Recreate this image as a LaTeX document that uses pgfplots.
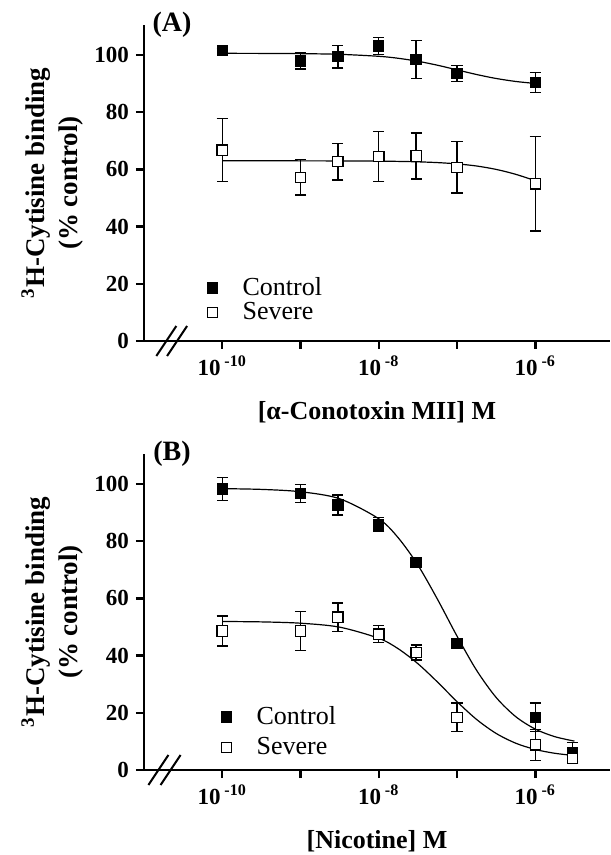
\documentclass[border=0pt]{standalone}
\usepackage{fontspec}
\setmainfont{Liberation Serif}
\usepackage{pgfplots}
\usepackage{pgfplotstable}
\pgfplotsset{compat=1.18}

% measured points: x, mean, SEM
\pgfplotstableread{
x      y      e
1e-10  101.5  0.6
1e-9   97.9   2.8
3e-9   99.4   4.0
1e-8   103.2  3.0
3e-8   98.4   6.6
1e-7   93.6   2.8
1e-6   90.3   3.5
}\ctrlA
\pgfplotstableread{
x      y      e
1e-10  66.7   11.0
1e-9   57.2   6.2
3e-9   62.7   6.4
1e-8   64.5   8.7
3e-8   64.7   8.0
1e-7   60.7   9.0
1e-6   55.0   16.5
}\sevA
\pgfplotstableread{
x      y      e
1e-10  98.2   4.0
1e-9   96.7   3.2
3e-9   92.7   3.5
1e-8   85.9   2.3
3e-8   72.5   0.8
1e-7   44.2   1.2
1e-6   18.4   5.0
3e-6   6.0    3.6
}\ctrlB
\pgfplotstableread{
x      y      e
1e-10  48.6   5.2
1e-9   48.6   6.8
3e-9   53.4   5.0
1e-8   47.5   3.0
3e-8   41.1   2.6
1e-7   18.4   5.0
1e-6   8.8    5.4
3e-6   4.1    1.0
}\sevB

% fitted curves
\pgfplotstableread{
x         y
1e-10     100.59
3.162e-10 100.56
1e-9      100.48
3.162e-9  100.24
1e-8      99.55
1.778e-8  98.85
3.162e-8  97.81
5.623e-8  96.43
1e-7      94.80
1.778e-7  93.18
3.162e-7  91.79
5.623e-7  90.75
1e-6      90.05
}\fitctrlA
\pgfplotstableread{
x         y
1e-10     63.00
3.162e-10 63.00
1e-9      62.99
3.162e-9  62.96
1e-8      62.89
1.778e-8  62.80
3.162e-8  62.65
5.623e-8  62.38
1e-7      61.93
1.778e-7  61.19
3.162e-7  60.00
5.623e-7  58.28
1e-6      56.04
}\fitsevA
\pgfplotstableread{
x         y
1e-10     98.38
3.162e-10 98.12
1e-9      97.30
3.162e-9  94.85
1e-8      87.85
1.778e-8  81.15
3.162e-8  71.65
5.623e-8  59.70
1e-7      46.80
1.778e-7  34.85
3.162e-7  25.35
5.623e-7  18.65
1e-6      14.30
1.778e-6  11.65
3.162e-6  10.10
}\fitctrlB
\pgfplotstableread{
x         y
1e-10     51.93
3.162e-10 51.79
1e-9      51.33
3.162e-9  49.95
1e-8      46.06
1.778e-8  42.37
3.162e-8  37.17
5.623e-8  30.76
1e-7      23.89
1.778e-7  17.67
3.162e-7  12.78
5.623e-7  9.37
1e-6      7.18
1.778e-6  5.84
3.162e-6  5.05
}\fitsevB

\pgfplotsset{
  every axis/.append style={
    scale only axis, width=233pt, height=158pt,
    xmin=1e-11, xmax=9e-6, ymin=0, ymax=110.5,
    axis x line=bottom, axis y line=left,
    axis line style={-, line width=1.2pt},
    tick align=outside, major tick length=4pt,
    tick style={line width=1.2pt, black},
    xtick={1e-10,1e-9,1e-8,1e-7,1e-6},
    xticklabels={10\,\textsuperscript{-10},,10\,\textsuperscript{-8},,10\,\textsuperscript{-6}},
    ytick={0,20,40,60,80,100},
    yticklabel style={/pgf/number format/assume math mode=true},
    ticklabel style={font=\bfseries\fontsize{11.5}{12}\selectfont},
    clip=false,
    xlabel style={at={(axis description cs:0.5,-0.225)}, anchor=center,
      font=\bfseries\fontsize{13}{15}\selectfont},
    ylabel style={at={(axis description cs:-0.197,0.5)}, anchor=center,
      align=center, font=\bfseries\fontsize{13.5}{16.5}\selectfont},
    legend cell align=left,
    legend style={draw=none, fill=none, font=\fontsize{13}{13}\selectfont,
      column sep=6.5pt, nodes={inner ysep=1pt, inner xsep=6pt}},
  },
}

\begin{document}
\begin{tikzpicture}
\useasboundingbox (0,0) rectangle (305pt,427.5pt);

% (A) alpha-conotoxin MII
\begin{semilogxaxis}[at={(72pt,257pt)}, anchor=south west,
  xminorticks=false,
  xlabel={[α-Conotoxin MII] M},
  ylabel={\textsuperscript{3}H-Cytisine binding\\(\% control)},
  legend style={at={(axis description cs:0.122,0.13)}, anchor=west}]
\addplot[black, line width=0.6pt, smooth, forget plot] table[x=x,y=y] {\fitctrlA};
\addplot[only marks, mark=square*, mark size=2.6pt,
  mark options={fill=black, draw=black, line width=0.5pt},
  error bars/.cd, y dir=both, y explicit,
  error bar style={line width=0.7pt, black},
  error mark options={rotate=90, mark size=2.8pt, line width=0.7pt, black}]
  table[x=x,y=y,y error=e] {\ctrlA};
\addlegendentry{Control}
\addplot[black, line width=0.6pt, smooth, forget plot] table[x=x,y=y] {\fitsevA};
\addplot[only marks, mark=square*, mark size=2.6pt,
  mark options={fill=white, draw=black, line width=0.6pt},
  error bars/.cd, y dir=both, y explicit,
  error bar style={line width=0.7pt, black},
  error mark options={rotate=90, mark size=2.8pt, line width=0.7pt, black}]
  table[x=x,y=y,y error=e] {\sevA};
\addlegendentry{Severe}
\node[font=\bfseries\fontsize{14}{14}\selectfont] at (rel axis cs:0.06,1.0) {(A)};
\draw[line width=1pt] ([xshift=-5pt,yshift=-7.5pt]rel axis cs:0.048,0) -- ([xshift=5pt,yshift=7.5pt]rel axis cs:0.048,0);
\draw[line width=1pt] ([xshift=-5pt,yshift=-7.5pt]rel axis cs:0.071,0) -- ([xshift=5pt,yshift=7.5pt]rel axis cs:0.071,0);
\end{semilogxaxis}

% (B) nicotine
\begin{semilogxaxis}[at={(72pt,42.5pt)}, anchor=south west,
  xminorticks=false,
  xlabel={[Nicotine] M},
  ylabel={\textsuperscript{3}H-Cytisine binding\\(\% control)},
  legend style={at={(axis description cs:0.152,0.12)}, anchor=west, row sep=3pt}]
\addplot[black, line width=0.6pt, smooth, forget plot] table[x=x,y=y] {\fitctrlB};
\addplot[only marks, mark=square*, mark size=2.6pt,
  mark options={fill=black, draw=black, line width=0.5pt},
  error bars/.cd, y dir=both, y explicit,
  error bar style={line width=0.7pt, black},
  error mark options={rotate=90, mark size=2.8pt, line width=0.7pt, black}]
  table[x=x,y=y,y error=e] {\ctrlB};
\addlegendentry{Control}
\addplot[black, line width=0.6pt, smooth, forget plot] table[x=x,y=y] {\fitsevB};
\addplot[only marks, mark=square*, mark size=2.6pt,
  mark options={fill=white, draw=black, line width=0.6pt},
  error bars/.cd, y dir=both, y explicit,
  error bar style={line width=0.7pt, black},
  error mark options={rotate=90, mark size=2.8pt, line width=0.7pt, black}]
  table[x=x,y=y,y error=e] {\sevB};
\addlegendentry{Severe}
\node[font=\bfseries\fontsize{14}{14}\selectfont] at (rel axis cs:0.06,1.0) {(B)};
\draw[line width=1pt] ([xshift=-5pt,yshift=-7.5pt]rel axis cs:0.031,0) -- ([xshift=5pt,yshift=7.5pt]rel axis cs:0.031,0);
\draw[line width=1pt] ([xshift=-5pt,yshift=-7.5pt]rel axis cs:0.057,0) -- ([xshift=5pt,yshift=7.5pt]rel axis cs:0.057,0);
\end{semilogxaxis}
\end{tikzpicture}
\end{document}
